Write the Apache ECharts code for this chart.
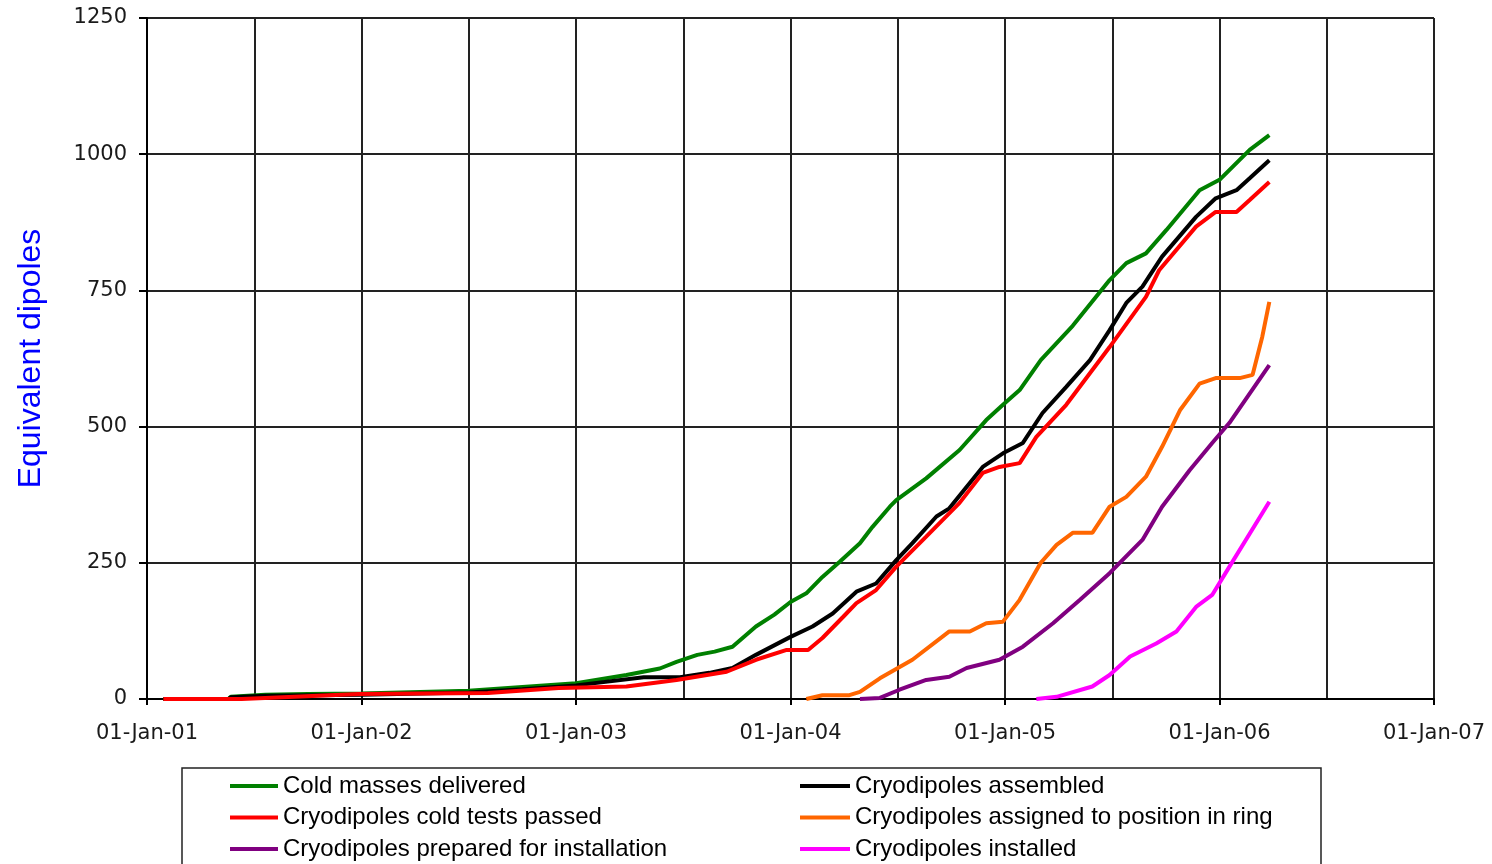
<!DOCTYPE html>
<html>
<head>
<meta charset="utf-8">
<title>Cryodipoles</title>
<script src="https://cdn.jsdelivr.net/npm/echarts@6/dist/echarts.min.js"></script>
<style>
  html, body { margin: 0; padding: 0; background: #fff; }
  #chartDom { width: 1492px; height: 864px; }
</style>
</head>
<body>
<div id="chartDom"></div>
<script>
// series values: [date, equivalent dipoles]
const coldMasses = [
  ['2001-01-29', 0], ['2001-05-18', 0], ['2001-05-22', 4], ['2001-07-20', 8], ['2001-10-01', 9],
  ['2002-01-01', 10], ['2002-07-01', 15], ['2002-10-01', 22], ['2003-01-01', 29], ['2003-03-26', 44],
  ['2003-05-22', 56], ['2003-06-20', 68], ['2003-07-25', 81], ['2003-08-24', 87], ['2003-09-24', 96],
  ['2003-11-03', 133], ['2003-12-04', 155], ['2004-01-01', 178], ['2004-01-28', 194], ['2004-02-25', 224],
  ['2004-03-24', 252], ['2004-04-28', 286], ['2004-05-19', 316], ['2004-06-18', 353], ['2004-06-29', 365],
  ['2004-08-19', 405], ['2004-10-15', 457], ['2004-11-30', 512], ['2004-12-28', 540], ['2005-01-26', 567],
  ['2005-03-01', 622], ['2005-04-25', 685], ['2005-06-27', 769], ['2005-07-25', 800], ['2005-08-28', 818],
  ['2005-10-02', 861], ['2005-11-28', 934], ['2006-01-01', 953], ['2006-02-22', 1008], ['2006-03-25', 1035]
]
const assembled = [
  ['2001-01-29', 0], ['2001-05-18', 0], ['2001-05-22', 3], ['2001-07-20', 6], ['2002-01-01', 8],
  ['2002-07-01', 12], ['2002-10-01', 18], ['2003-01-01', 25], ['2003-04-25', 40], ['2003-06-26', 40],
  ['2003-08-15', 48], ['2003-09-24', 57], ['2003-11-03', 81], ['2004-01-01', 114], ['2004-02-08', 133],
  ['2004-03-12', 157], ['2004-04-22', 197], ['2004-05-25', 212], ['2004-06-29', 255], ['2004-07-26', 286],
  ['2004-09-06', 335], ['2004-09-28', 350], ['2004-11-24', 426], ['2004-12-28', 451], ['2005-02-01', 470],
  ['2005-03-04', 525], ['2005-04-14', 573], ['2005-05-24', 622], ['2005-06-27', 677], ['2005-07-25', 727],
  ['2005-08-22', 757], ['2005-09-25', 812], ['2005-11-22', 885], ['2005-12-25', 919], ['2006-01-30', 934],
  ['2006-02-22', 956], ['2006-03-25', 989]
]
const coldTested = [
  ['2001-01-29', 0], ['2001-06-10', 0], ['2001-06-12', 3], ['2001-12-27', 9], ['2002-08-03', 11],
  ['2002-12-02', 20], ['2003-03-26', 23], ['2003-06-20', 35], ['2003-09-14', 50], ['2003-11-03', 72],
  ['2003-12-25', 90], ['2004-01-31', 90], ['2004-02-25', 112], ['2004-03-30', 151], ['2004-04-22', 176],
  ['2004-05-25', 200], ['2004-06-29', 243], ['2004-08-19', 298], ['2004-10-15', 360], ['2004-11-24', 415],
  ['2004-12-22', 426], ['2005-01-26', 433], ['2005-02-24', 481], ['2005-04-14', 540], ['2005-06-27', 646],
  ['2005-08-28', 738], ['2005-09-20', 787], ['2005-11-22', 867], ['2005-12-25', 894], ['2006-01-30', 894],
  ['2006-02-22', 916], ['2006-03-25', 949]
]
const assignedRing = [
  ['2004-01-28', 0], ['2004-02-25', 7], ['2004-04-10', 7], ['2004-04-28', 13], ['2004-06-01', 38],
  ['2004-07-26', 72], ['2004-09-28', 124], ['2004-11-02', 124], ['2004-11-30', 139], ['2004-12-28', 142],
  ['2005-01-26', 182], ['2005-03-01', 250], ['2005-03-28', 283], ['2005-04-25', 305], ['2005-05-28', 305],
  ['2005-06-27', 353], ['2005-07-25', 371], ['2005-08-28', 408], ['2005-09-25', 463], ['2005-10-25', 530],
  ['2005-11-28', 579], ['2005-12-25', 589], ['2006-02-05', 589], ['2006-02-27', 595], ['2006-03-13', 665],
  ['2006-03-25', 729]
]
const prepared = [
  ['2004-04-28', 0], ['2004-06-01', 2], ['2004-07-04', 17], ['2004-08-19', 35], ['2004-09-28', 41],
  ['2004-10-27', 57], ['2004-12-22', 72], ['2005-02-01', 96], ['2005-03-22', 139], ['2005-05-07', 182],
  ['2005-06-27', 231], ['2005-08-22', 292], ['2005-09-25', 353], ['2005-11-11', 420], ['2005-12-19', 470],
  ['2006-01-18', 507], ['2006-03-25', 613]
]
const installed = [
  ['2005-02-24', 0], ['2005-03-28', 4], ['2005-05-28', 23], ['2005-06-27', 44], ['2005-08-01', 78],
  ['2005-09-15', 102], ['2005-10-19', 124], ['2005-11-22', 169], ['2005-12-19', 191], ['2006-01-18', 243],
  ['2006-03-25', 362]
]

const seriesNames = [
  'Cold masses delivered', 'Cryodipoles assembled', 'Cryodipoles cold tests passed',
  'Cryodipoles assigned to position in ring', 'Cryodipoles prepared for installation', 'Cryodipoles installed'
]
const seriesColors = ['#008000', '#000000', '#ff0000', '#ff6600', '#800080', '#ff00ff']
const seriesData = [coldMasses, assembled, coldTested, assignedRing, prepared, installed]

// x axis runs in months since 01-Jan-01
function toMonths (d) {
  const p = d.split('-').map(Number)
  return (p[0] - 2001) * 12 + (p[1] - 1) + (p[2] - 1) / 30.5
}

const canvasChart = echarts.init(document.getElementById('chartDom'))
const gridLine = { color: '#222', width: 2 }
const legendText = { fontFamily: 'Liberation Sans', fontSize: 24, lineHeight: 24, color: '#000' }

const option = {
  animation: false,
  backgroundColor: '#fff',
  grid: { left: 147, right: 58, top: 18, bottom: 165, containLabel: false },
  xAxis: {
    type: 'value',
    min: 0,
    max: 72,
    interval: 12,
    axisLine: { show: true, lineStyle: { color: '#000', width: 2 } },
    axisTick: { show: true, length: 6, lineStyle: { color: '#000', width: 2 } },
    minorTick: { show: false, splitNumber: 2 },
    splitLine: { show: true, lineStyle: gridLine },
    minorSplitLine: { show: true, lineStyle: gridLine },
    axisLabel: {
      margin: 24,
      color: '#1a1a1a',
      fontFamily: 'DejaVu Sans',
      fontSize: 21,
      formatter: function (v) {
        return '01-Jan-' + String(v / 12 + 1).padStart(2, '0')
      }
    }
  },
  yAxis: {
    type: 'value',
    min: 0,
    max: 1250,
    interval: 250,
    name: 'Equivalent dipoles',
    nameLocation: 'middle',
    nameGap: 100,
    nameTextStyle: { color: '#0000ff', fontFamily: 'Liberation Sans', fontSize: 32 },
    axisLine: { show: true, lineStyle: { color: '#000', width: 2 } },
    axisTick: { show: true, length: 8, lineStyle: { color: '#000', width: 2 } },
    splitLine: { show: true, lineStyle: gridLine },
    axisLabel: {
      margin: 20,
      color: '#1a1a1a',
      fontFamily: 'DejaVu Sans',
      fontSize: 21,
      formatter: function (v) { return String(v) }
    }
  },
  legend: [
    {
      orient: 'vertical', left: 230, top: 774, height: 120, padding: 0, itemGap: 7.5,
      itemWidth: 48, itemHeight: 4, icon: 'rect',
      textStyle: legendText,
      data: [seriesNames[0], seriesNames[2], seriesNames[4]]
    },
    {
      orient: 'vertical', left: 800, top: 774, height: 120, padding: 0, itemGap: 7.5,
      itemWidth: 50, itemHeight: 4, icon: 'rect',
      textStyle: legendText,
      data: [seriesNames[1], seriesNames[3], seriesNames[5]]
    }
  ],
  graphic: [
    {
      type: 'rect',
      silent: true,
      shape: { x: 182, y: 768, width: 1139, height: 120 },
      style: { fill: 'none', stroke: '#222', lineWidth: 1.5 }
    }
  ],
  series: seriesData.map(function (rows, i) {
    return {
      name: seriesNames[i],
      type: 'line',
      showSymbol: false,
      color: seriesColors[i],
      lineStyle: { width: 4, color: seriesColors[i] },
      data: rows.map(function (r) { return [toMonths(r[0]), r[1]] })
    }
  })
}

canvasChart.setOption(option)
</script>
</body>
</html>
